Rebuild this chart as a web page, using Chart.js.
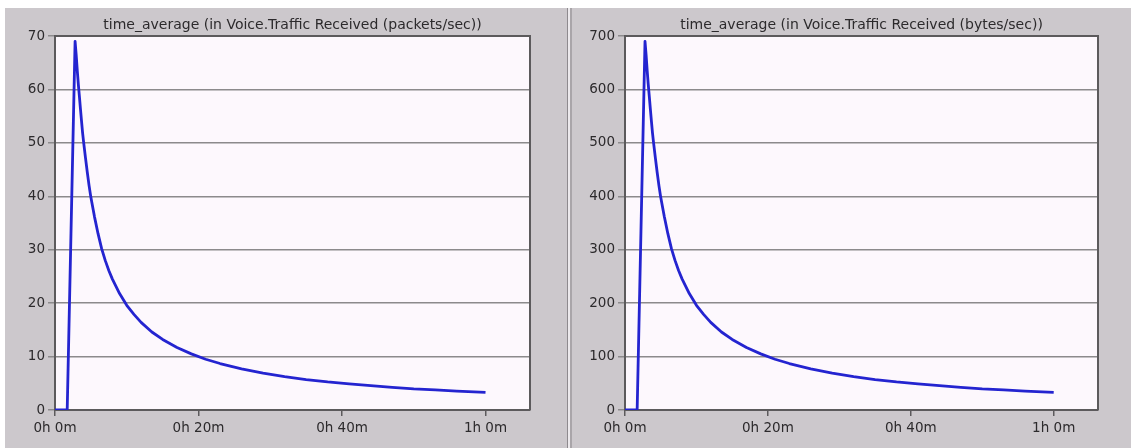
<!DOCTYPE html>
<html>
<head>
<meta charset="utf-8">
<script src="https://cdn.jsdelivr.net/npm/chart.js@4/dist/chart.umd.min.js"></script>
<style>
  html, body { margin: 0; padding: 0; background: #ffffff; }
  body { width: 1131px; height: 448px; position: relative; overflow: hidden; }
  .panel { position: absolute; top: 8px; height: 440px; background: #ccc8cc; }
  #p1 { left: 5px; width: 562px; }
  #p2 { left: 572px; width: 559px; }
  .divA { position: absolute; top: 8px; height: 440px; left: 567px; width: 1px; background: #8e8a8e; }
  .divB { position: absolute; top: 8px; height: 440px; left: 568px; width: 2px; background: #ece9ec; }
  .divC { position: absolute; top: 8px; height: 440px; left: 570px; width: 2px; background: #a9a5a9; }
  canvas { display: block; }
</style>
</head>
<body>
<div class="panel" id="p1"><canvas id="c1" width="562" height="440"></canvas></div>
<div class="divA"></div><div class="divB"></div><div class="divC"></div>
<div class="panel" id="p2"><canvas id="c2" width="559" height="440"></canvas></div>
<script>
// ---- data ----
const timesMin = [0, 1.7, 2.8, 2.95, 3.1, 3.25, 3.4, 3.55, 3.7, 3.85, 4.0, 4.25, 4.5, 4.75, 5.0, 5.5, 6.0, 6.5, 7.0, 7.5, 8.0, 9.0, 10, 11, 12, 13.5, 15, 17, 19, 21, 23, 26, 29, 32, 35, 38, 41, 44, 47, 50, 53, 56, 60];
const packetsPerSec = [0, 0, 69, 66.5, 63.6, 61, 58.7, 56.3, 54, 51.8, 50, 47.2, 44.5, 42, 39.8, 36.2, 33, 30.2, 28, 26.1, 24.5, 21.8, 19.6, 17.9, 16.4, 14.6, 13.2, 11.7, 10.5, 9.5, 8.7, 7.7, 6.9, 6.25, 5.7, 5.25, 4.9, 4.55, 4.25, 3.95, 3.75, 3.55, 3.3];
const bytesPerSec = [0, 0, 690, 665, 636, 610, 587, 563, 540, 518, 500, 472, 445, 420, 398, 362, 330, 302, 280, 261, 245, 218, 196, 179, 164, 146, 132, 117, 105, 95, 87, 77, 69, 62.5, 57, 52.5, 49, 45.5, 42.5, 39.5, 37.5, 35.5, 33];
const xTickValues = [0, 20, 40, 60];
const xTickLabels = ["0h 0m", "0h 20m", "0h 40m", "1h 0m"];
const titles = [
  "time_average (in Voice.Traffic Received (packets/sec))",
  "time_average (in Voice.Traffic Received (bytes/sec))"
];
const yMax1 = 70, yStep1 = 10;
const yMax2 = 700, yStep2 = 100;
const xMaxMin = 66.2;

const FONT = { family: "'DejaVu Sans', sans-serif", size: 13.5 };
const TITLE_FONT = { family: "'DejaVu Sans', sans-serif", size: 14, weight: 'normal', lineHeight: 1.2 };
const TEXT = '#2c2a2c';

const plotFrame = {
  id: 'plotFrame',
  beforeDraw(chart) {
    const a = chart.chartArea, ctx = chart.ctx;
    ctx.save();
    ctx.fillStyle = '#fdf8fd';
    ctx.fillRect(a.left, a.top, a.right - a.left, a.bottom - a.top);
    ctx.restore();
  },
  afterDraw(chart) {
    const a = chart.chartArea, ctx = chart.ctx;
    ctx.save();
    ctx.strokeStyle = '#5c5a5c';
    ctx.lineWidth = 2;
    ctx.beginPath();
    ctx.moveTo(a.left, a.top);
    ctx.lineTo(a.right, a.top);
    ctx.lineTo(a.right, a.bottom);
    ctx.stroke();
    ctx.restore();
  }
};

function makeChart(id, title, values, yMax, yStep, yAxisWidth, rightPad) {
  const pts = timesMin.map((t, i) => ({ x: t, y: values[i] }));
  return new Chart(document.getElementById(id), {
    type: 'line',
    data: { datasets: [{
      data: pts,
      borderColor: '#2424d0',
      borderWidth: 2.8,
      pointRadius: 0,
      tension: 0,
      borderJoinStyle: 'round',
      fill: false
    }]},
    options: {
      responsive: false,
      animation: false,
      layout: { padding: { left: 0, right: rightPad, top: 0, bottom: 0 } },
      plugins: {
        legend: { display: false },
        tooltip: { enabled: false },
        title: {
          display: true, text: title, fullSize: false,
          color: TEXT, font: TITLE_FONT,
          padding: { top: 8.6, bottom: 2.6 }
        }
      },
      scales: {
        x: {
          type: 'linear', min: 0, max: xMaxMin,
          afterBuildTicks: ax => { ax.ticks = xTickValues.map(v => ({ value: v })); },
          afterFit: s => { s.height = 38; },
          ticks: {
            autoSkip: false, maxRotation: 0, padding: 4,
            color: TEXT, font: FONT,
            callback: v => xTickLabels[xTickValues.indexOf(v)]
          },
          grid: { drawOnChartArea: false, drawTicks: true, tickLength: 6, color: '#5c5a5c', lineWidth: 1.5 },
          border: { display: true, color: '#5c5a5c', width: 2 }
        },
        y: {
          min: 0, max: yMax,
          afterFit: s => { s.width = yAxisWidth; },
          ticks: { stepSize: yStep, padding: 3, color: TEXT, font: FONT },
          grid: { drawOnChartArea: true, drawTicks: true, tickLength: 7, color: '#8c8a8c', lineWidth: 1.5 },
          border: { display: true, color: '#5c5a5c', width: 2 }
        }
      }
    },
    plugins: [plotFrame]
  });
}

makeChart('c1', titles[0], packetsPerSec, yMax1, yStep1, 50, 37);
makeChart('c2', titles[1], bytesPerSec, yMax2, yStep2, 53, 33);
</script>
</body>
</html>
